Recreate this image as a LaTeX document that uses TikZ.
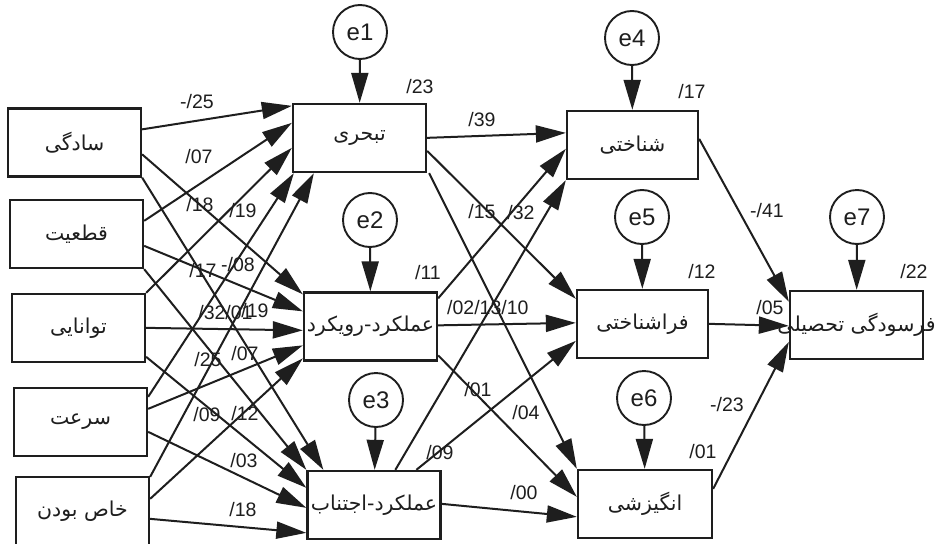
\documentclass[tikz,border=0pt]{standalone}
\usepackage{fontspec}
\setmainfont{Liberation Sans}
\newfontfamily\farsi[Script=Arabic]{DejaVu Sans}
\TeXXeTstate=1
\usetikzlibrary{arrows.meta,calc}
\definecolor{ink}{HTML}{1E1E1E}
\newcommand{\fa}[1]{\makebox[0pt][c]{\beginR #1\endR}}
\begin{document}
\begin{tikzpicture}[x=1pt,y=-1pt,
  box/.style={draw=ink,line width=2.3pt,minimum width=133pt,minimum height=68pt,inner sep=0pt,text=ink,font=\farsi\fontsize{20.5}{20.5}\selectfont},
  err/.style={circle,draw=ink,line width=1.9pt,minimum size=54pt,inner sep=0pt,text=ink,font=\fontsize{24}{24}\selectfont},
  arr/.style={draw=ink,line width=2pt,-{Triangle[length=30pt,width=17pt]}},
  lab/.style={font=\fontsize{19.5}{19.5}\selectfont,inner sep=0pt,text=ink}]
\useasboundingbox (0,0) rectangle (936,543);
\fill[white] (0,0) rectangle (936,543);
% left column
\node[box] (sad) at (74.5,142.5) {\fa{سادگی}};
\node[box] (gha) at (76.5,234) {\fa{قطعیت}};
\node[box] (tav) at (78.5,328) {\fa{توانایی}};
\node[box] (sor) at (80.5,422) {\fa{سرعت}};
\node[box] (kha) at (82.5,511) {\fa{خاص بودن}};
% middle column
\node[box] (tab) at (359.5,138) {\fa{تبحری}};
\node[box] (roo) at (370.5,326.5) {\fa{عملکرد-رویکرد}};
\node[box] (ejt) at (374,505) {\fa{عملکرد-اجتناب}};
% right column
\node[box,minimum width=131pt] (she) at (632.5,145) {\fa{شناختی}};
\node[box,minimum width=131pt] (far) at (642.5,324) {\fa{فراشناختی}};
\node[box,minimum width=134pt] (ang) at (645,504) {\fa{انگیزشی}};
\node[box] (fas) at (856.5,325) {\fa{فرسودگی تحصیلی}};
% errors
\node[err] (e1) at (360,32) {e1};
\node[err] (e2) at (370,220) {e2};
\node[err] (e3) at (376,400) {e3};
\node[err] (e4) at (632,38) {e4};
\node[err] (e5) at (642,217) {e5};
\node[err] (e6) at (644,398) {e6};
\node[err] (e7) at (857,217) {e7};
\draw[arr] (e1) -- (tab);
\draw[arr] (e2) -- (roo);
\draw[arr] (e3) -- (ejt);
\draw[arr] (e4) -- (she);
\draw[arr] (e5) -- (far);
\draw[arr] (e6) -- (ang);
\draw[arr] (e7) -- (fas);
% left -> tabahhori
\draw[arr] ($(sad.north east)+(0,22)$) -- ($(tab.north west)+(0,3)$);
\draw[arr] ($(gha.north east)+(0,22)$) -- ($(tab.north west)+(0,20)$);
\draw[arr] (tav.north east) -- ($(tab.north west)+(0,45)$);
\draw[arr] ($(sor.north east)+(0,10)$) -- ($(tab.south west)+(2,0)$);
\draw[arr] ($(kha.north east)+(0,1)$) -- ($(tab.south west)+(22,0)$);
% left -> rooykard
\draw[arr] ($(sad.north east)+(0,47)$) -- ($(roo.north west)+(0,3)$);
\draw[arr] ($(gha.north east)+(0,47)$) -- ($(roo.north west)+(0,20)$);
\draw[arr] ($(tav.north east)+(0,35)$) -- ($(roo.north west)+(0,39)$);
\draw[arr] ($(sor.north east)+(0,22)$) -- ($(roo.north west)+(0,54)$);
\draw[arr] ($(kha.north east)+(0,23)$) -- ($(roo.north west)+(0,67)$);
% left -> ejtenab
\draw[arr] (sad.south east) -- ($(ejt.north west)+(17,0)$);
\draw[arr] (gha.south east) -- (ejt.north west);
\draw[arr] ($(tav.north east)+(0,64)$) -- ($(ejt.north west)+(0,18)$);
\draw[arr] ($(sor.north east)+(0,45)$) -- ($(ejt.north west)+(0,38)$);
\draw[arr] ($(kha.north east)+(0,43)$) -- ($(ejt.north west)+(0,63)$);
% middle -> right
\draw[arr] ($(tab.north east)+(0,35)$) -- ($(she.north west)+(0,23)$);
\draw[arr] ($(tab.north east)+(0,48)$) -- ($(far.north west)+(0,10)$);
\draw[arr] ($(tab.south east)+(2,0)$) -- (ang.north west);
\draw[arr] ($(roo.north east)+(0,7)$) -- ($(she.north west)+(0,39)$);
\draw[arr] ($(roo.north east)+(0,34)$) -- ($(far.north west)+(0,34)$);
\draw[arr] ($(roo.north east)+(0,64)$) -- ($(ang.north west)+(0,28)$);
\draw[arr] ($(ejt.north west)+(89,0)$) -- (she.south west);
\draw[arr] ($(ejt.north west)+(110,0)$) -- ($(far.north west)+(0,52)$);
\draw[arr] ($(ejt.north east)+(0,34)$) -- ($(ang.north west)+(0,48)$);
% right -> outcome
\draw[arr] ($(she.north east)+(0,29)$) -- ($(fas.north west)+(0,12)$);
\draw[arr] ($(far.north east)+(0,35)$) -- ($(fas.north west)+(0,36)$);
\draw[arr] ($(ang.north east)+(0,20)$) -- ($(fas.north west)+(0,52)$);
% R2 labels
\node[lab] (r1) at (420,87) {/23};
\node[lab] (r2) at (428,273) {/11};
\node[lab] (r3) at (440,453) {/09};
\node[lab] (r4) at (692,92) {/17};
\node[lab] (r5) at (702,272) {/12};
\node[lab] (r6) at (703,452) {/01};
\node[lab] (r7) at (914,272) {/22};
% path labels left
\node[lab] (a1) at (197,102) {-/25};
\node[lab] (a2) at (199,157) {/07};
\node[lab] (a3) at (200,205) {/18};
\node[lab] (a4) at (243,211) {/19};
\node[lab] (a5) at (203,271) {/17};
\node[lab] (a6) at (238,265) {-/08};
\node[lab] (a7) at (212,313) {/32};
\node[lab] (a8) at (239,313) {/01};
\node[lab] (a9) at (255,311) {/19};
\node[lab] (a10) at (208,360) {/25};
\node[lab] (a11) at (245,354) {/07};
\node[lab] (a12) at (207,415) {/09};
\node[lab] (a13) at (245,414) {/12};
\node[lab] (a14) at (244,461) {/03};
\node[lab] (a15) at (243,510) {/18};
% path labels middle
\node[lab] (b1) at (482,120) {/39};
\node[lab] (b2) at (482,212) {/15};
\node[lab] (b3) at (521,213) {/32};
\node[lab,anchor=west] (b4) at (447,308) {/02/13/10};
\node[lab] (b5) at (478,390) {/01};
\node[lab] (b6) at (526,413) {/04};
\node[lab] (b7) at (524,493) {/00};
% path labels right
\node[lab] (c1) at (767,211) {-/41};
\node[lab] (c2) at (770,308) {/05};
\node[lab] (c3) at (727,405) {-/23};
\end{tikzpicture}
\end{document}
